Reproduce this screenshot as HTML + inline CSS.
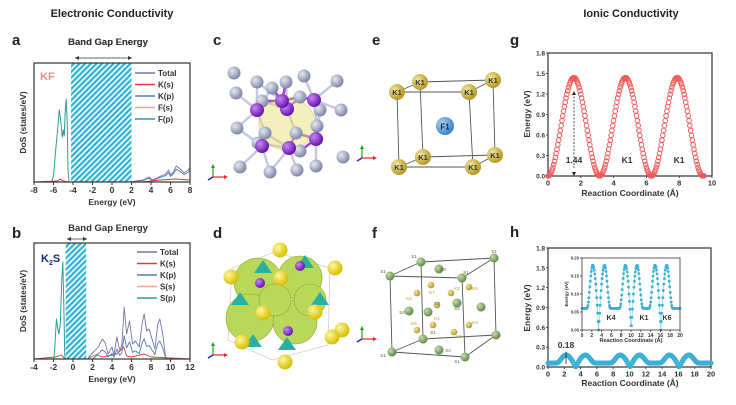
<!DOCTYPE html>
<html><head><meta charset="utf-8"><style>
body{margin:0;background:#fff}
svg{display:block;font-family:"Liberation Sans",Arial,sans-serif}
text{font-family:"Liberation Sans",Arial,sans-serif}
</style></head><body>
<svg id="s" width="736" height="405" viewBox="0 0 736 405" xmlns="http://www.w3.org/2000/svg">
<defs>
<pattern id="hat" width="4" height="4" patternUnits="userSpaceOnUse" patternTransform="rotate(45)">
<rect width="4" height="4" fill="#fff"/><rect width="2.4" height="4" fill="#36b6d6"/></pattern>
<radialGradient id="gG" cx="35%" cy="35%" r="65%"><stop offset="0" stop-color="#e6e9f2"/><stop offset="1" stop-color="#8088a8"/></radialGradient>
<radialGradient id="gP" cx="35%" cy="35%" r="65%"><stop offset="0" stop-color="#c58af0"/><stop offset="1" stop-color="#6a13b0"/></radialGradient>
<radialGradient id="gY" cx="35%" cy="35%" r="65%"><stop offset="0" stop-color="#fff7a0"/><stop offset="1" stop-color="#d6c000"/></radialGradient>
<radialGradient id="gK" cx="35%" cy="35%" r="65%"><stop offset="0" stop-color="#f3e6a0"/><stop offset="1" stop-color="#b59a20"/></radialGradient>
<radialGradient id="gS" cx="35%" cy="35%" r="65%"><stop offset="0" stop-color="#c8dcb0"/><stop offset="1" stop-color="#5f8a48"/></radialGradient>
<radialGradient id="gF" cx="35%" cy="35%" r="65%"><stop offset="0" stop-color="#a8d4f4"/><stop offset="1" stop-color="#3a86c8"/></radialGradient>
</defs>
<g font-weight="bold" fill="#222">
<text x="112" y="17" font-size="11" text-anchor="middle">Electronic Conductivity</text>
<text x="631" y="17" font-size="11" text-anchor="middle">Ionic Conductivity</text>
<text x="12" y="45" font-size="15">a</text>
<text x="12" y="238" font-size="15">b</text>
<text x="213" y="45" font-size="15">c</text>
<text x="213" y="238" font-size="15">d</text>
<text x="372" y="45" font-size="15">e</text>
<text x="372" y="238" font-size="15">f</text>
<text x="510" y="45" font-size="15">g</text>
<text x="510" y="237" font-size="15">h</text>
</g>
<g id="dyn"></g>
</svg>
<script>
var G=document.getElementById("dyn"),H="";
function ln(x1,y1,x2,y2,c,w,ex){H+='<line x1="'+x1+'" y1="'+y1+'" x2="'+x2+'" y2="'+y2+'" stroke="'+c+'" stroke-width="'+(w||1)+'" '+(ex||'')+'/>';}
function tx(x,y,t,s,a,ex){H+='<text x="'+x+'" y="'+y+'" font-size="'+s+'" text-anchor="'+(a||'middle')+'" '+(ex||'font-weight="bold" fill="#333"')+'>'+t+'</text>';}
function ci(x,y,r,f,ex){H+='<circle cx="'+x+'" cy="'+y+'" r="'+r+'" fill="'+f+'" '+(ex||'')+'/>';}
function pl(pts,c,w){H+='<polyline points="'+pts.map(function(p){return p[0].toFixed(1)+','+p[1].toFixed(1)}).join(' ')+'" fill="none" stroke="'+c+'" stroke-width="'+(w||1)+'" stroke-linejoin="round"/>';}

function dos(L,T,R,B,x0,x1,hat,title,titleY,arr,mat,legY,leg,series){
  tx(108,titleY,"Band Gap Energy",9.5);
  ln(arr[0],arr[2],arr[1],arr[2],"#333",0.8);
  H+='<path d="M'+arr[0]+','+arr[2]+' l4,-2 v4z M'+arr[1]+','+arr[2]+' l-4,-2 v4z" fill="#333"/>';
  var sx=function(e){return L+(e-x0)/(x1-x0)*(R-L)};
  H+='<rect x="'+sx(hat[0])+'" y="'+T+'" width="'+(sx(hat[1])-sx(hat[0]))+'" height="'+(B-T)+'" fill="url(#hat)"/>';
  series.forEach(function(s){pl(s.p.map(function(q){return [sx(q[0]),B-q[1]]}),s.c,s.w||0.9)});
  H+='<rect x="'+L+'" y="'+T+'" width="'+(R-L)+'" height="'+(B-T)+'" fill="none" stroke="#333" stroke-width="1.2"/>';
  for(var e=x0;e<=x1;e+=2){var X=sx(e);ln(X,B,X,B+3,"#333",1);tx(X,B+11,e,8.5);}
  tx((L+R)/2,B+23,"Energy (eV)",8.5);
  H+='<text transform="translate('+(L-8)+','+((T+B)/2)+') rotate(-90)" font-size="8.5" text-anchor="middle" font-weight="bold" fill="#333">DoS (states/eV)</text>';
  H+=mat;
  var cols=["#7474ac","#e23a3a","#4d7bb8","#f7a0a0","#2a9f96"];
  leg.forEach(function(t,i){var y=legY[0]+i*legY[1];ln(legY[2],y,legY[2]+20,y,cols[i],1.5);tx(legY[2]+23,y+3,t,8,"start");});
}
var fp=[[-8,0],[-6.2,0],[-6,6],[-5.8,30],[-5.55,55],[-5.4,72],[-5.25,60],[-5.1,45],[-5.0,52],[-4.9,46],[-4.8,70],[-4.7,83],[-4.6,60],[-4.5,10],[-4.4,0],[8,0]];
var kfT=[[-8,0],[2,0],[2.5,1],[3.2,2],[3.8,5],[4.1,2],[4.6,4],[5,6],[5.5,8],[5.8,12],[6,7],[6.3,10],[6.6,16],[7,13],[7.4,9],[7.8,12],[8,15]];
var kfP=kfT.map(function(p){return [p[0],p[1]*0.8]});
dos(34,63,190,182,-8,8,[-4.2,2],"",45,[75,132,58],
 '<text x="40" y="80" font-size="11" font-weight="bold" fill="#f08a8a">KF</text>',
 [73,11.5,135],["Total","K(s)","K(p)","F(s)","F(p)"],
 [{p:[[-8,0],[-5.6,1],[-5.3,3],[-5,1],[-4.5,0],[8,0]],c:"#e23a3a"},{p:fp,c:"#2a9f96",w:1},{p:kfP,c:"#4d7bb8"},{p:kfT,c:"#7474ac"},{p:[[-8,0],[3,0],[5,2],[6.5,3],[8,2]],c:"#e23a3a"}]);
var sp=[[-4,0],[-1.95,0],[-1.85,15],[-1.7,40],[-1.55,30],[-1.45,25],[-1.3,35],[-1.15,80],[-1.05,97],[-0.95,60],[-0.85,5],[-0.8,0],[12,0]];
var kT=[[-4,0],[1.5,0],[1.8,4],[2.2,8],[2.6,12],[3,20],[3.3,16],[3.6,5],[4,12],[4.2,4],[4.5,22],[4.8,8],[5,14],[5.25,52],[5.5,25],[5.8,38],[6.1,15],[6.4,18],[6.8,12],[7.1,36],[7.3,45],[7.55,28],[7.8,30],[8.1,20],[8.4,10],[8.7,35],[8.9,40],[9.2,25],[9.5,2],[9.7,0],[12,0]];
var kP=kT.map(function(p){return [p[0],p[1]*0.45]});
dos(34,243,190,359,-4,12,[-0.75,1.35],"",231,[67,87,239],
 '<text x="41" y="262" font-size="11" font-weight="bold" fill="#1c2a78">K<tspan font-size="7" dy="3">2</tspan><tspan dy="-3">S</tspan></text>',
 [252,11.5,137],["Total","K(s)","K(p)","S(s)","S(p)"],
 [{p:[[-4,0],[-1.8,2],[-1.2,4],[-0.8,0],[2,0],[2.5,4],[3,2],[4.5,5],[5.2,12],[5.5,3],[6,2],[7.3,5],[8,2],[12,0]],c:"#e23a3a"},{p:sp,c:"#2a9f96",w:1},{p:kP,c:"#4d7bb8"},{p:kT,c:"#7474ac"}]);
tx(108,45,"Band Gap Energy",9.5);

function axes(L,T,R,B,xmax,xstep,ymax,ystep,yfmt,fs){
  H+='<rect x="'+L+'" y="'+T+'" width="'+(R-L)+'" height="'+(B-T)+'" fill="none" stroke="#333" stroke-width="'+(fs>6?1.2:0.8)+'"/>';
  for(var v=0;v<=xmax+1e-9;v+=xstep){var X=L+v/xmax*(R-L);ln(X,B,X,B+2,"#333",0.8);tx(X,B+fs+2,v,fs);}
  for(var v=0;v<=ymax+1e-9;v+=ystep){var Y=B-v/ymax*(B-T);ln(L-2,Y,L,Y,"#333",0.8);tx(L-3,Y+fs/3,v.toFixed(yfmt),fs*0.85,"end");}
}
var gL=548,gT=53,gR=712,gB=176;
axes(gL,gT,gR,gB,10,2,1.8,0.3,1,7.5);
for(var i=0;i<=190;i++){var x=i*0.05;var e=0.72*(1-Math.cos(2*Math.PI*x/3.15));
 ci(gL+x/10*(gR-gL),gB-e/1.8*(gB-gT),2.3,"none",'stroke="#f45a5a" stroke-width="1"');}
tx(630,196,"Reaction Coordinate (Å)",8.5);
H+='<text transform="translate(530,114) rotate(-90)" font-size="8.5" text-anchor="middle" font-weight="bold" fill="#333">Energy (eV)</text>';
ln(574,93,574,168,"#222",0.8,'stroke-dasharray="2,1.5"');
H+='<path d="M574,91 l-2,4 h4z M574,176 l-2,-4 h4z" fill="#222"/>';
tx(574,163,"1.44",8.5);tx(627,163,"K1",8.5);tx(679,163,"K1",8.5);
function hE(x,pk){var ms=[3.4,10.05,16.1],e=0.06;ms.forEach(function(m){var d=Math.abs(x-m);if(d<1.2)e=pk*Math.sin(Math.PI*d/2.4);else if(d<2.4)e=0.06+(pk-0.06)*(0.5+0.5*Math.cos(Math.PI*(d-1.2)/1.2));});return e;}
var hL=548,hT=248,hR=711,hB=367;
axes(hL,hT,hR,hB,20,2,1.8,0.3,1,7.5);
for(var i=0;i<=260;i++){var x=i*20/260;ci(hL+x/20*(hR-hL),hB-hE(x,0.18)/1.8*(hB-hT),2.1,"none",'stroke="#3ab0d4" stroke-width="0.9"');}
tx(630,386,"Reaction Coordinate (Å)",8.5);
H+='<text transform="translate(530,308) rotate(-90)" font-size="8.5" text-anchor="middle" font-weight="bold" fill="#333">Energy (eV)</text>';
tx(566,348,"0.18",8.5);ln(566,352,566,364,"#222",0.8);
var iL=582,iT=258,iR=680,iB=330;
H+='<rect x="'+iL+'" y="'+iT+'" width="'+(iR-iL)+'" height="'+(iB-iT)+'" fill="#fff"/>';
var pts=[];for(var i=0;i<=200;i++){var x=i*0.1;pts.push([iL+x/20*(iR-iL),iB-hE(x,0.18)/0.2*(iB-iT)]);}
pl(pts,"#7ccbe6",0.6);
pts.forEach(function(p,i){ci(p[0],p[1],1.4,"#3ab0d4");});
axes(iL,iT,iR,iB,20,2,0.2,0.05,2,5);
tx(631,342,"Reaction Coordinate (Å)",5.5);
H+='<text transform="translate(568,294) rotate(-90)" font-size="4.5" text-anchor="middle" font-weight="bold" fill="#333">Energy (eV)</text>';
tx(611,320,"K4",7);tx(644,320,"K1",7);tx(667,320,"K6",7);

function triad(x,y){ln(x,y,x,y-10,"#1a1",1.2);H+='<path d="M'+x+','+(y-13)+' l-2,4 h4z" fill="#1a1"/>';ln(x,y,x+12,y,"#e22",1.2);H+='<path d="M'+(x+15)+','+y+' l-4,-2 v4z" fill="#e22"/>';ln(x,y,x-5,y+3,"#22c",1.5);}
triad(213,177);triad(362,158);triad(213,355);triad(362,339);

var gray=[[234,73],[257,82],[304,76],[337,81],[272,88],[286,82],[236,93],[262,101],[300,97],[341,110],[237,128],[265,133],[296,133],[317,126],[343,157],[240,167],[270,172],[297,170],[316,166],[258,143],[300,151],[320,110]];
var purp=[[257,110],[287,109],[314,100],[262,146],[289,148],[316,139],[282,101]];
purp.forEach(function(p){gray.forEach(function(q){var d=Math.hypot(p[0]-q[0],p[1]-q[1]);if(d<32)ln(p[0],p[1],q[0],q[1],d<22?"#a640d8":"#c5c8e0",2.5);});});
H+='<ellipse cx="287" cy="124" rx="28" ry="26" fill="#e8e070" opacity="0.45" stroke="#c8b820"/>';
gray.forEach(function(p){ci(p[0],p[1],6.5,"url(#gG)");});
purp.forEach(function(p){ci(p[0],p[1],7,"url(#gP)");});

H+='<path d="M275,252 L330,268 L328,345 L272,360 L228,340 L232,268 Z" fill="none" stroke="#ccc" stroke-width="0.8"/>';
var blobs=[[258,282,24],[300,278,22],[250,318,24],[295,322,22],[275,300,16],[310,300,16]];
blobs.forEach(function(b){ci(b[0],b[1],b[2],"#b9d85a",'stroke="#8aa830" stroke-width="0.6"');});
[[263,268],[305,263],[320,300],[240,300],[287,345],[253,342]].forEach(function(p){H+='<path d="M'+(p[0]-9)+','+(p[1]+5)+' L'+p[0]+','+(p[1]-8)+' L'+(p[0]+9)+','+(p[1]+5)+'Z" fill="#2bb0a0"/>';});
[[260,283],[300,266],[288,331]].forEach(function(p){ci(p[0],p[1],5,"url(#gP)");});
var ys=[[280,250],[335,268],[231,277],[281,278],[263,313],[315,312],[342,330],[242,342],[285,362],[332,337]];
ys.forEach(function(p){ci(p[0],p[1],7.5,"url(#gY)");});

var e=[[397,92],[469,92],[399,167],[473,167],[420,82],[493,80],[423,157],[495,155]];
[[0,1],[0,2],[1,3],[2,3],[4,5],[4,6],[5,7],[6,7],[0,4],[1,5],[2,6],[3,7]].forEach(function(k){ln(e[k[0]][0],e[k[0]][1],e[k[1]][0],e[k[1]][1],"#555",0.9);});
[4,5,6,7,0,1,2,3].forEach(function(i){ci(e[i][0],e[i][1],8,"url(#gK)");tx(e[i][0],e[i][1]+3,"K1",7.5);});
ci(445,126,9,"url(#gF)");tx(445,129.5,"F1",8,"middle",'font-weight="bold" fill="#223"');

var f=[[390,276],[462,278],[392,352],[465,357],[421,262],[494,258],[423,339],[496,335]];
[[0,1],[0,2],[1,3],[2,3],[4,5],[4,6],[5,7],[6,7],[0,4],[1,5],[2,6],[3,7]].forEach(function(k){ln(f[k[0]][0],f[k[0]][1],f[k[1]][0],f[k[1]][1],"#555",0.9);});
f.forEach(function(p){ci(p[0],p[1],4.5,"url(#gS)");});
[[439,269],[457,303],[428,312],[409,311],[439,350],[481,307]].forEach(function(p){ci(p[0],p[1],4.5,"url(#gS)");});
[[431,285],[451,293],[469,287],[417,293],[433,325],[417,330],[469,325],[454,332],[437,305]].forEach(function(p){ci(p[0],p[1],3.3,"url(#gK)");});
var lbl=[[383,273,"S1"],[414,258,"S1"],[443,271,"S3"],[466,274,"S1"],[494,253,"S1"],[409,300,"K4"],[432,294,"K7"],[457,290,"K2"],[475,290,"K5"],[437,305,"S2"],[457,310,"S2"],[402,314,"S4"],[437,320,"K1"],[414,325,"K6"],[475,324,"K3"],[459,338,"K8"],[433,334,"S1"],[448,352,"S3"],[383,357,"S1"],[457,363,"S1"]];
lbl.forEach(function(l){tx(l[0],l[1],l[2],4.5,"middle",'fill="'+(l[2][0]=="K"?"#b89a20":"#4a6a38")+'"');});

G.innerHTML=H;
</script>
</body></html>
